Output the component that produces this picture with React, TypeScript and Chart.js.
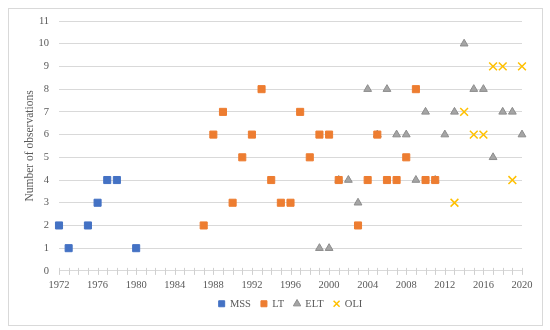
import React, { useEffect, useRef } from "react";
import { Chart, registerables } from "chart.js";

Chart.register(...registerables);

const mssYears = [1972, 1973, 1975, 1976, 1977, 1978, 1980];
const mssCounts = [2, 1, 2, 3, 4, 4, 1];

const ltYears = [1987, 1988, 1989, 1990, 1991, 1992, 1993, 1994, 1995, 1996, 1997, 1998, 1999, 2000, 2001, 2003, 2004, 2005, 2006, 2007, 2008, 2009, 2010, 2011];
const ltCounts = [2, 6, 7, 3, 5, 6, 8, 4, 3, 3, 7, 5, 6, 6, 4, 2, 4, 6, 4, 4, 5, 8, 4, 4];

const eltYears = [1999, 2000, 2001, 2002, 2003, 2004, 2005, 2006, 2007, 2008, 2009, 2010, 2011, 2012, 2013, 2014, 2015, 2016, 2017, 2018, 2019, 2020];
const eltCounts = [1, 1, 4, 4, 3, 8, 6, 8, 6, 6, 4, 7, 4, 6, 7, 10, 8, 8, 5, 7, 7, 6];

const oliYears = [2013, 2014, 2015, 2016, 2017, 2018, 2019, 2020];
const oliCounts = [3, 7, 6, 6, 9, 9, 4, 9];

const seriesNames = ["MSS", "LT", "ELT", "OLI"];
const yearMin = 1972;
const yearMax = 2020;
const countMin = 0;
const countMax = 11;
const yTitle = "Number of observations";

const toPoints = (xs: number[], ys: number[]) => xs.map((x, i) => ({ x, y: ys[i] }));

const crossTicks = {
  id: "crossTicks",
  beforeDatasetsDraw(chart: any) {
    const x = chart.scales.x;
    const ctx = chart.ctx;
    const yb = chart.chartArea.bottom;
    ctx.save();
    ctx.strokeStyle = "#d0d0d0";
    ctx.lineWidth = 1;
    x.ticks.forEach((_: any, i: number) => {
      const px = Math.round(x.getPixelForTick(i)) + 0.5;
      ctx.beginPath();
      ctx.moveTo(px, yb - 3);
      ctx.lineTo(px, yb + 4);
      ctx.stroke();
    });
    ctx.restore();
  },
};

const centerLegend = {
  id: "centerLegend",
  afterLayout(chart: any) {
    const lg = chart.legend;
    if (!lg) return;
    const ca = chart.chartArea;
    const shift = (ca.left + ca.right) / 2 - (lg.left + lg.right) / 2;
    lg.left += shift;
    lg.right += shift;
    if (lg.legendHitBoxes) lg.legendHitBoxes.forEach((b: any) => (b.left += shift));
  },
};

export default function App() {
  const ref = useRef<HTMLCanvasElement>(null);
  useEffect(() => {
    if (!ref.current) return;
    Chart.defaults.font.family = "'Liberation Serif', serif";
    Chart.defaults.color = "#595959";
    const chart = new Chart(ref.current, {
      type: "scatter",
      data: {
        datasets: [
          {
            label: seriesNames[0],
            data: toPoints(mssYears, mssCounts),
            pointStyle: "rect",
            pointRadius: 5,
            backgroundColor: "#4472C4",
            borderColor: "#4472C4",
            borderWidth: 1,
          },
          {
            label: seriesNames[1],
            data: toPoints(ltYears, ltCounts),
            pointStyle: "rect",
            pointRadius: 5,
            backgroundColor: "#ED7D31",
            borderColor: "#ED7D31",
            borderWidth: 1,
          },
          {
            label: seriesNames[2],
            data: toPoints(eltYears, eltCounts),
            pointStyle: "triangle",
            pointRadius: 4.5,
            backgroundColor: "#A5A5A5",
            borderColor: "#8c8c8c",
            borderWidth: 1,
          },
          {
            label: seriesNames[3],
            data: toPoints(oliYears, oliCounts),
            pointStyle: "crossRot",
            pointRadius: 5.5,
            backgroundColor: "#FFC000",
            borderColor: "#FFC000",
            borderWidth: 1.5,
          },
        ],
      },
      options: {
        animation: false,
        responsive: false,
        maintainAspectRatio: false,
        clip: false as any,
        layout: { padding: { left: 23, right: 28, top: 21, bottom: 11 } },
        plugins: {
          tooltip: { enabled: false },
          legend: {
            position: "bottom",
            labels: {
              usePointStyle: true,
              boxWidth: 6,
              boxHeight: 6,
              padding: 10,
              font: { size: 10.5 },
              color: "#595959",
            },
          },
        },
        scales: {
          x: {
            type: "linear",
            min: yearMin,
            max: yearMax,
            ticks: {
              stepSize: 1,
              autoSkip: false,
              maxRotation: 0,
              padding: 8,
              font: { size: 10.5 },
              callback: (v: any) => ((v - yearMin) % 4 === 0 ? String(v) : ""),
            },
            grid: { drawOnChartArea: false, drawTicks: false },
            border: { display: true, color: "#d9d9d9" },
            afterFit: (s: any) => {
              s.height = s.height - 11;
            },
          },
          y: {
            min: countMin,
            max: countMax,
            ticks: { stepSize: 1, padding: 10, font: { size: 10.5 } },
            grid: { color: "#d9d9d9", drawTicks: false },
            border: { display: false },
            title: { display: true, text: yTitle, font: { size: 11.5 }, color: "#595959", padding: 0 },
            afterFit: (s: any) => {
              s.width = 36;
            },
          },
        },
      },
      plugins: [crossTicks, centerLegend],
    });
    return () => chart.destroy();
  }, []);
  return (
    <div style={{ position: "fixed", left: 0, top: 0, width: 550, height: 330, background: "#fff" }}>
      <canvas ref={ref} width={550} height={330} style={{ position: "absolute", left: 0, top: 0 }} />
      <div
        style={{
          position: "absolute",
          left: 8,
          top: 8,
          width: 535,
          height: 318,
          border: "1px solid #d9d9d9",
          boxSizing: "border-box",
          pointerEvents: "none",
        }}
      />
    </div>
  );
}
